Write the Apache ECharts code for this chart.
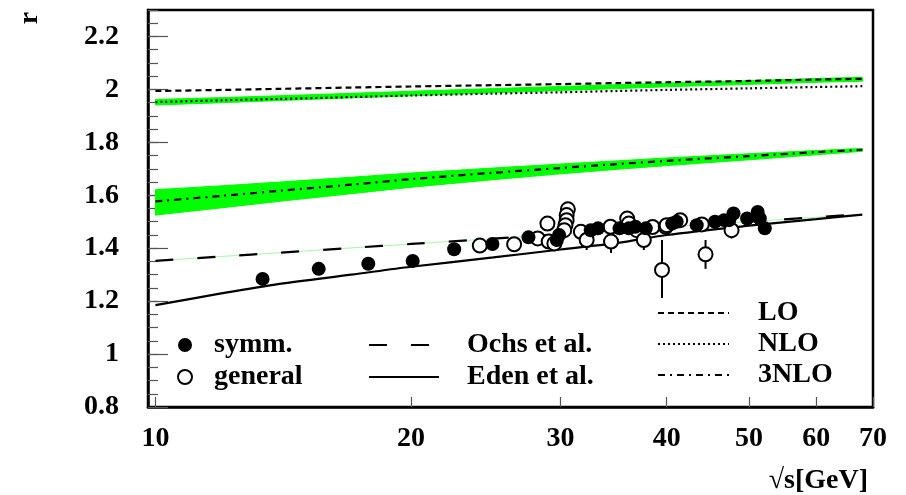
<!DOCTYPE html>
<html><head><meta charset="utf-8">
<script src="https://cdn.jsdelivr.net/npm/echarts@6/dist/echarts.min.js"></script>
<style>html,body{margin:0;padding:0;background:#fff}#c{width:906px;height:495px}</style>
</head><body><div id="c"></div>
<script>
// ---- data ----
const curveX    = [10, 12, 14, 17, 20, 25, 30, 35, 40, 50, 60, 68];
const loR       = [1.994, 1.998, 2.002, 2.007, 2.011, 2.016, 2.020, 2.024, 2.027, 2.032, 2.037, 2.040];
const nloR      = [1.952, 1.959, 1.964, 1.971, 1.977, 1.984, 1.989, 1.994, 1.998, 2.004, 2.009, 2.012];
const nnnloR    = [1.577, 1.598, 1.617, 1.640, 1.661, 1.685, 1.703, 1.718, 1.730, 1.748, 1.763, 1.772];
const bandUpLow = [1.941, 1.950, 1.958, 1.968, 1.976, 1.987, 1.996, 2.003, 2.010, 2.019, 2.027, 2.031];
const bandUpHigh= [1.962, 1.969, 1.976, 1.985, 1.993, 2.003, 2.011, 2.018, 2.024, 2.033, 2.041, 2.046];
const band3Low  = [1.525, 1.553, 1.577, 1.606, 1.630, 1.659, 1.681, 1.698, 1.712, 1.734, 1.753, 1.766];
const band3High = [1.621, 1.636, 1.650, 1.668, 1.684, 1.703, 1.718, 1.730, 1.741, 1.757, 1.769, 1.777];
const ochsR     = [1.352, 1.369, 1.383, 1.401, 1.416, 1.436, 1.453, 1.467, 1.480, 1.500, 1.517, 1.528];
const edenR     = [1.185, 1.230, 1.265, 1.300, 1.330, 1.365, 1.395, 1.420, 1.450, 1.485, 1.510, 1.527];

const symmX = [13.37, 15.57, 17.81, 20.09, 22.48, 24.94, 27.5, 29.7, 29.88, 32.56, 33.2, 35.2, 36.1, 36.75, 37.8, 40.6, 41.1, 43.4, 45.6, 46.75, 47.4, 47.95, 49.75, 51.2, 51.5, 52.2];
const symmR = [1.284, 1.322, 1.341, 1.352, 1.396, 1.416, 1.441, 1.431, 1.450, 1.468, 1.475, 1.475, 1.475, 1.481, 1.475, 1.493, 1.500, 1.487, 1.500, 1.506, 1.506, 1.531, 1.512, 1.537, 1.512, 1.475];

const generalX = [24.1, 26.45, 28.2, 28.95, 29.05, 29.5, 30.6, 30.5, 30.5, 30.4, 30.3, 31.7, 32.2, 34.35, 34.4, 35.94, 36.1, 36.9, 37.6, 38.5, 39.9, 40.0, 41.5, 39.5, 44.0, 44.45, 47.7];
const generalR = [1.410, 1.415, 1.437, 1.493, 1.425, 1.418, 1.547, 1.525, 1.506, 1.487, 1.468, 1.462, 1.431, 1.481, 1.425, 1.512, 1.493, 1.468, 1.431, 1.480, 1.481, 1.487, 1.506, 1.318, 1.490, 1.377, 1.468];

const errX    = [32.2, 34.4, 37.6, 39.5, 44.45, 47.7];
const errLow  = [1.393, 1.382, 1.393, 1.212, 1.322, 1.437];
const errHigh = [1.469, 1.468, 1.469, 1.431, 1.431, 1.499];

const xTickValues = [10, 20, 30, 40, 50, 60, 70];

// ---- build ----
const pairs = (xs, ys) => xs.map((x, i) => [x, ys[i]]);
const FONT = 'Liberation Serif';
const txt = {fontFamily: FONT, fontWeight: 'bold', fontSize: 28, color: '#000'};

// band drawn as one polygon through the axis scales (api.coord)
function bandSeries(name, lows, highs) {
  return {
    name: name, type: 'custom', z: 1, silent: true,
    data: curveX.map((x, i) => [x, lows[i], highs[i]]),
    encode: {x: 0, y: [1, 2]},
    renderItem: function (params, api) {
      if (params.dataIndex !== 0) return null;
      const top = curveX.map((x, i) => api.coord([x, highs[i]]));
      const bot = curveX.map((x, i) => api.coord([x, lows[i]])).reverse();
      return {type: 'polygon', shape: {points: top.concat(bot)}, style: {fill: '#00ff00', stroke: '#00ff00', lineWidth: 1}};
    }
  };
}

const chart = echarts.init(document.getElementById('c'), null, {renderer: 'canvas'});
chart.setOption({
  animation: false,
  backgroundColor: '#fff',
  grid: {left: 148, right: 33, top: 10, bottom: 87, show: true, borderColor: '#000', borderWidth: 2.5, backgroundColor: 'transparent'},
  xAxis: {
    type: 'log', logBase: 10, min: 9.8, max: 70,
    name: '\u221As[GeV]', nameLocation: 'end', nameGap: -5,
    nameTextStyle: Object.assign({}, txt, {align: 'right', verticalAlign: 'top', padding: [60, 0, 0, 0]}),
    axisLine: {lineStyle: {color: '#000', width: 2.5}},
    axisTick: {inside: true, length: 10, customValues: xTickValues, lineStyle: {color: '#555', width: 1.2}},
    axisLabel: Object.assign({}, txt, {margin: 18, customValues: xTickValues}),
    splitLine: {show: false}, minorTick: {show: false}
  },
  yAxis: [{
    type: 'value', min: 0.8, max: 2.3, interval: 0.2,
    name: 'r', nameLocation: 'end', nameRotate: 90, nameGap: -8,
    nameTextStyle: Object.assign({}, txt, {align: 'center', verticalAlign: 'bottom', padding: [0, 0, 104, 0]}),
    axisLine: {lineStyle: {color: '#000', width: 2.5}},
    axisTick: {inside: true, length: 20, lineStyle: {color: '#555', width: 1.2}},
    axisLabel: Object.assign({}, txt, {margin: 29, showMaxLabel: false}),
    splitLine: {show: false}
  }, {
    type: 'value', min: 0.8, max: 2.3, interval: 0.05, position: 'left',
    axisLine: {show: false},
    axisTick: {inside: true, length: 10, lineStyle: {color: '#555', width: 1.2}},
    axisLabel: {show: false}, splitLine: {show: false}
  }],
  legend: [{
    data: ['symm.', 'general'], orient: 'vertical', left: 177, top: 331, padding: 0,
    itemWidth: 14, itemHeight: 14, itemGap: 4,
    textStyle: Object.assign({}, txt, {lineHeight: 28, padding: [0, 0, 0, 17]})
  }, {
    data: ['Ochs et al.', 'Eden et al.'], orient: 'vertical', left: 368, top: 331, padding: 0,
    itemWidth: 70, itemHeight: 14, itemGap: 4, itemStyle: {opacity: 0},
    textStyle: Object.assign({}, txt, {lineHeight: 28, padding: [0, 0, 0, 23]})
  }, {
    data: ['LO', 'NLO', '3NLO'], orient: 'vertical', left: 657, top: 299, padding: 0,
    itemWidth: 71, itemHeight: 14, itemGap: 3, itemStyle: {opacity: 0},
    textStyle: Object.assign({}, txt, {lineHeight: 28, padding: [0, 0, 0, 24]})
  }],
  series: [
    bandSeries('bandUp', bandUpLow, bandUpHigh),
    bandSeries('band3', band3Low, band3High),
    // thin green along Ochs
    {name: 'ochsBand', type: 'line', data: pairs(curveX, ochsR), symbol: 'none', smooth: 0.3, lineStyle: {color: '#a8f5a8', width: 1}, z: 2, silent: true},
    {name: 'LO', type: 'line', data: pairs(curveX, loR), symbol: 'none', smooth: 0.3, color: '#000', lineStyle: {color: '#000', width: 2.2, type: [6, 4]}, z: 3},
    {name: 'NLO', type: 'line', data: pairs(curveX, nloR), symbol: 'none', smooth: 0.3, color: '#000', lineStyle: {color: '#000', width: 2.2, type: [2, 3]}, z: 3},
    {name: '3NLO', type: 'line', data: pairs(curveX, nnnloR), symbol: 'none', smooth: 0.3, color: '#000', lineStyle: {color: '#000', width: 2.2, type: [7, 5, 2, 5]}, z: 3},
    {name: 'Ochs et al.', type: 'line', data: pairs(curveX, ochsR), symbol: 'none', smooth: 0.3, color: '#000', lineStyle: {color: '#000', width: 2.2, type: [18, 24]}, z: 3},
    {name: 'Eden et al.', type: 'line', data: pairs(curveX, edenR), symbol: 'none', smooth: 0.3, color: '#000', lineStyle: {color: '#000', width: 2.2}, z: 3},
    // error bars
    {name: 'errors', type: 'custom', z: 4, silent: true,
     data: errX.map((x, i) => [x, errLow[i], errHigh[i]]),
     encode: {x: 0, y: [1, 2]},
     renderItem: function (params, api) {
       const a = api.coord([api.value(0), api.value(1)]);
       const b = api.coord([api.value(0), api.value(2)]);
       return {type: 'line', shape: {x1: a[0], y1: a[1], x2: b[0], y2: b[1]}, style: {stroke: '#000', lineWidth: 2}};
     }},
    {name: 'general', type: 'scatter', data: pairs(generalX, generalR), symbol: 'circle', symbolSize: 14,
     itemStyle: {color: '#fff', borderColor: '#000', borderWidth: 2, opacity: 1}, z: 5},
    {name: 'symm.', type: 'scatter', data: pairs(symmX, symmR), symbol: 'circle', symbolSize: 14,
     itemStyle: {color: '#000', opacity: 1}, z: 6}
  ]
});
</script></body></html>
